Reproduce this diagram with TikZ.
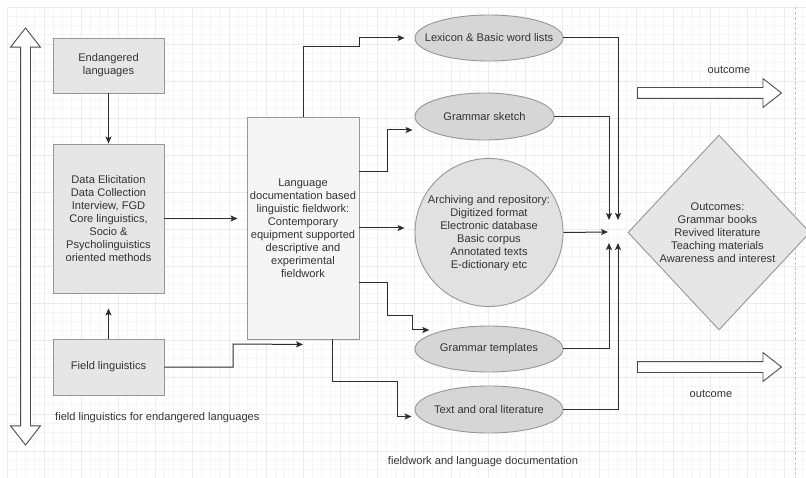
\documentclass[tikz,border=0pt]{standalone}
\usepackage{fontspec}
\setmainfont{Liberation Sans}
\usetikzlibrary{positioning, arrows.meta, shapes.geometric, shapes.arrows}
\definecolor{gridminor}{RGB}{246,246,246}
\definecolor{gridmajor}{RGB}{236,236,236}
\definecolor{boxfill}{RGB}{230,230,230}
\definecolor{docfill}{RGB}{245,245,245}
\definecolor{ovalfill}{RGB}{214,214,214}
\definecolor{bubblefill}{RGB}{225,225,225}
\definecolor{edgecolor}{RGB}{150,150,150}
\definecolor{textcolor}{RGB}{51,51,51}
\definecolor{linecolor}{RGB}{45,45,45}

\begin{document}
\begin{tikzpicture}[x=1pt, y=-1pt,
    every node/.style={font=\fontsize{11.1}{13}\selectfont, text=textcolor},
    box/.style={rectangle, draw=edgecolor, fill=boxfill, line width=0.9pt, minimum width=111pt, align=center, inner sep=0pt},
    docbox/.style={box, fill=docfill, minimum width=112pt},
    oval/.style={ellipse, draw=edgecolor, fill=ovalfill, line width=0.9pt, minimum width=148pt, minimum height=46pt, inner sep=0pt},
    bubble/.style={circle, draw=edgecolor, fill=bubblefill, line width=0.9pt, minimum size=148pt, inner sep=0pt},
    outcomebox/.style={diamond, draw=edgecolor, fill=boxfill, line width=0.9pt, minimum width=182pt, minimum height=195pt, inner sep=0pt},
    annot/.style={align=center, inner sep=0pt},
    conn/.style={-{Stealth[length=7pt, width=6pt, inset=1.5pt]}, draw=linecolor, line width=1pt},
    bigarrow/.style={draw=linecolor!85, fill=white, line width=0.9pt},
]

% --- background and grid ---
\fill[white] (0,0) rectangle (806,478);
\useasboundingbox (0,0) rectangle (806,478);
\draw[gridminor, line width=0.6pt, shift={(7,7)}] (0,0) grid[step=9.25pt] (799,471);
\draw[gridmajor, line width=0.6pt, shift={(7,7)}] (0,0) grid[step=37pt] (799,471);
\draw[gray!45, line width=0.8pt, dash pattern=on 3pt off 2pt] (795,7) -- (795,478);

% ======= LEFT COLUMN =======
\node[box, minimum height=55pt] (endang) at (108.5,65.5) {Endangered\\languages};
\node[box, minimum height=149pt] (elicit) at (108.5,218.5) {Data Elicitation\\Data Collection\\Interview, FGD\\Core linguistics,\\Socio \&\\Psycholinguistics\\oriented methods};
\node[box, minimum height=56pt] (fieldling) at (108.5,367) {Field linguistics};
\node[bigarrow, double arrow, rotate=90, minimum height=417pt, minimum width=29pt,
      double arrow head extend=10pt, double arrow tip angle=76, inner sep=4.5pt] (bothway) at (25.5,236.5) {};
\node[annot, anchor=west] (leftnote) at (55,418) {field linguistics for endangered languages};

% ======= MIDDLE =======
\node[docbox, minimum height=222pt] (langdoc) at (303,228) {Language\\documentation based\\linguistic fieldwork:\\Contemporary\\equipment supported\\descriptive and\\experimental\\fieldwork};

\node[oval] (lexicon) at (489,38) {};
\node[annot] (lexicon text) at (lexicon) {Lexicon \& Basic word lists};
\node[oval, minimum width=139pt, minimum height=47pt] (sketch) at (484.5,116.5) {};
\node[annot] (sketch text) at (sketch) {Grammar sketch};
\node[bubble] (archive) at (489,232.5) {};
\node[annot] (archive text) at (489,233) {Archiving and repository:\\Digitized format\\Electronic database\\Basic corpus\\Annotated texts\\E-dictionary etc};
\node[oval] (templates) at (489,349) {};
\node[annot] (templates text) at (templates) {Grammar templates};
\node[oval, minimum height=47pt] (oral) at (489,409.5) {};
\node[annot] (oral text) at (oral) {Text and oral literature};
\node[annot] (midnote) at (483,462) {fieldwork and language documentation};

% ======= RIGHT =======
\coordinate (hub) at (613,232);
\node[outcomebox] (outcomes) at (719,232.5) {};
\node[annot] (outcomes text) at (717.5,232.5) {Outcomes:\\Grammar books\\Revived literature\\Teaching materials\\Awareness and interest};
\node[bigarrow, single arrow, anchor=tail, minimum height=144pt, minimum width=28pt,
      single arrow head extend=9pt, single arrow tip angle=76, inner sep=5pt] (outTop) at (637,93) {};
\node[bigarrow, single arrow, anchor=tail, minimum height=144pt, minimum width=28pt,
      single arrow head extend=9pt, single arrow tip angle=76, inner sep=5pt] (outBottom) at (637,367) {};
\node[annot] (outTop label) at (729,70) {outcome};
\node[annot] (outBottom label) at (711,394) {outcome};

% ======= CONNECTIONS =======
\draw[conn] (endang) -- (elicit);
\draw[conn, shorten >=15pt] (fieldling) -- (elicit);
\draw[conn, shorten >=9pt] (elicit.east) -- (langdoc.west |- elicit.east);
\draw[conn] (fieldling.east) -| (233,344) -- ([yshift=-5pt]langdoc.south);

% langdoc -> products
\draw[conn, shorten >=10pt] (langdoc.north) |- (359,47) |- (lexicon.west);
\draw[conn, shorten >=2pt] ([yshift=56pt]langdoc.east) -| (387,130) -- (sketch.west |- 387,130);
\draw[conn, shorten >=10pt] (langdoc.east) -- (archive.west |- langdoc.east);
\draw[conn] ([yshift=-55pt]langdoc.east) -| (387,316) -| (412,330) -- ([xshift=-7pt]templates.north west |- 0,330);
\draw[conn, shorten >=3pt] ([xshift=29pt]langdoc.south) |- (397,381) |- ([yshift=-7pt]oral.west);

% products -> hub
\draw[conn] (lexicon.east) -| ([xshift=5pt, yshift=12pt]hub);
\draw[conn] (sketch.east) -| ([xshift=-4pt, yshift=12pt]hub);
\draw[conn] (archive.east) -- ([xshift=-5pt]hub);
\draw[conn] (templates.east) -| ([xshift=-4pt, yshift=-11pt]hub);
\draw[conn] (oral.east) -| ([xshift=5pt, yshift=-11pt]hub);

\end{tikzpicture}
\end{document}
